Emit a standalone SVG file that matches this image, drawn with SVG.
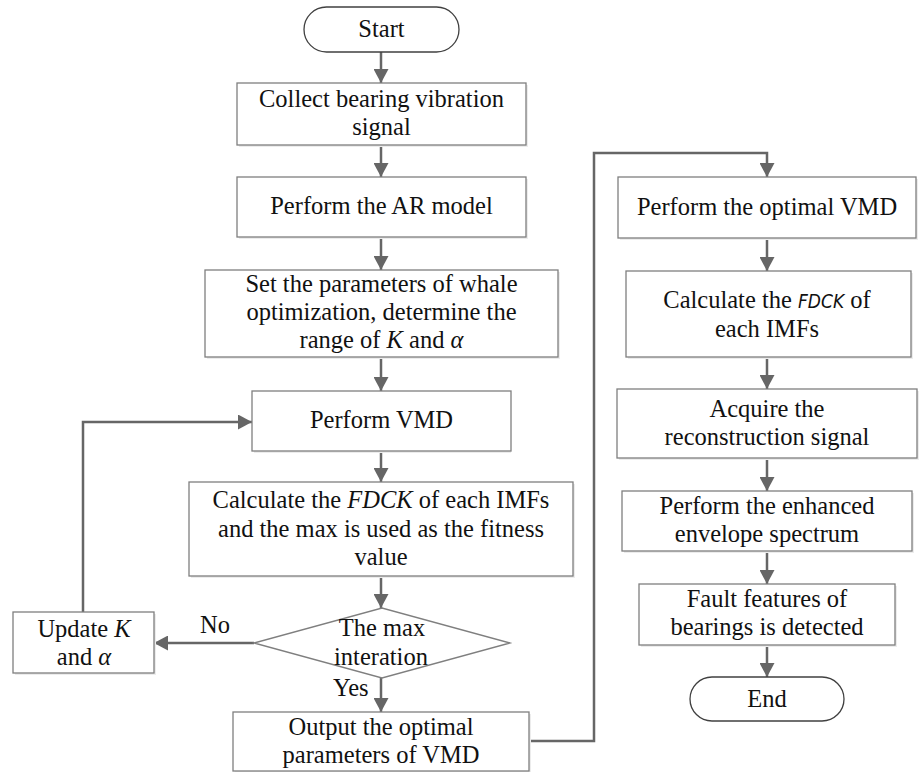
<svg xmlns="http://www.w3.org/2000/svg" width="919" height="772" viewBox="0 0 919 772">
<style>
.box{fill:#fff;stroke:#7f7f7f;stroke-width:1.3}
.shadow{fill:#ececec;stroke:none}
.term{fill:#fff;stroke:#404040;stroke-width:1.3}
.t{font-family:"Liberation Serif","Times New Roman",serif;font-size:24.5px;fill:#111;text-anchor:middle}
.lbl{font-family:"Liberation Serif","Times New Roman",serif;font-size:24.5px;fill:#111}
.it{font-style:italic}
.sans{font-family:"Liberation Sans Narrow","DejaVu Sans Condensed","Liberation Sans",Arial,sans-serif;font-style:italic;font-size:19px}
.c{fill:none;stroke:#666;stroke-width:2.5;marker-end:url(#ah)}
</style>
<defs>
<marker id="ah" markerUnits="userSpaceOnUse" markerWidth="15" markerHeight="15" refX="14" refY="7.5" orient="auto">
<path d="M0,0 L14,7.5 L0,15 z" fill="#666"/>
</marker>
</defs>
<rect width="919" height="772" fill="#fff"/>

<g id="connectors">
<path class="c" d="M381,52 V83"/>
<path class="c" d="M381,145 V177"/>
<path class="c" d="M381,237 V270"/>
<path class="c" d="M381,357 V391"/>
<path class="c" d="M381,451 V482"/>
<path class="c" d="M381,576 V608"/>
<path class="c" d="M381,678 V712"/>
<path class="c" d="M254,643 H154"/>
<path class="c" d="M83,612 V422 H252"/>
<path class="c" d="M529,741 H594 V153 H767 V177"/>
<path class="c" d="M767,238 V271"/>
<path class="c" d="M767,357 V389"/>
<path class="c" d="M767,458 V491"/>
<path class="c" d="M767,551 V584"/>
<path class="c" d="M767,645 V677"/>
<text class="lbl" x="200" y="633">No</text>
<text class="lbl" x="333" y="696">Yes</text>
</g>

<g id="start">
<rect class="term" x="304" y="7" width="155" height="45" rx="22.5" ry="22.5"/>
<text class="t" x="381.5" y="37">Start</text>
</g>

<g id="collect">
<rect class="shadow" x="239" y="85" width="289" height="62"/>
<rect class="box" x="237" y="83" width="289" height="62"/>
<text class="t" x="381.5" y="107">Collect bearing vibration</text>
<text class="t" x="381.5" y="135">signal</text>
</g>

<g id="ar">
<rect class="shadow" x="239" y="179" width="289" height="60"/>
<rect class="box" x="237" y="177" width="289" height="60"/>
<text class="t" x="381.5" y="214">Perform the AR model</text>
</g>

<g id="setparams">
<rect class="shadow" x="207" y="272" width="353" height="87"/>
<rect class="box" x="205" y="270" width="353" height="87"/>
<text class="t" x="381.5" y="292">Set the parameters of whale</text>
<text class="t" x="381.5" y="320">optimization, determine the</text>
<text class="t" x="381.5" y="348">range of <tspan class="it">K</tspan> and <tspan class="it">α</tspan></text>
</g>

<g id="vmd">
<rect class="shadow" x="254" y="393" width="257" height="60"/>
<rect class="box" x="252" y="391" width="259" height="60"/>
<text class="t" x="381.5" y="428">Perform VMD</text>
</g>

<g id="calc1">
<rect class="shadow" x="191" y="484" width="384" height="94"/>
<rect class="box" x="189" y="482" width="384" height="94"/>
<text class="t" x="381" y="508">Calculate the <tspan class="it">FDCK</tspan> of each IMFs</text>
<text class="t" x="381" y="537">and the max is used as the fitness</text>
<text class="t" x="381" y="565">value</text>
</g>

<g id="decision">
<polygon class="box" points="254,643 382,608 510,643 382,678"/>
<text class="t" x="382" y="636">The max</text>
<text class="t" x="381" y="665">interation</text>
</g>

<g id="update">
<rect class="shadow" x="15" y="614" width="141" height="61"/>
<rect class="box" x="13" y="612" width="141" height="61"/>
<text class="t" x="84" y="637">Update <tspan class="it">K</tspan></text>
<text class="t" x="84" y="665">and <tspan class="it">α</tspan></text>
</g>

<g id="output">
<rect class="shadow" x="235" y="714" width="296" height="60"/>
<rect class="box" x="233" y="712" width="296" height="59"/>
<text class="t" x="381" y="735">Output the optimal</text>
<text class="t" x="381" y="763">parameters of VMD</text>
</g>

<g id="optvmd">
<rect class="shadow" x="620" y="179" width="298" height="61"/>
<rect class="box" x="618" y="177" width="298" height="61"/>
<text class="t" x="767" y="215">Perform the optimal VMD</text>
</g>

<g id="calc2">
<rect class="shadow" x="628" y="273" width="285" height="86"/>
<rect class="box" x="626" y="271" width="285" height="86"/>
<text class="t" x="767" y="308">Calculate the <tspan class="sans">FDCK</tspan> of</text>
<text class="t" x="767" y="337">each IMFs</text>
</g>

<g id="acquire">
<rect class="shadow" x="619" y="391" width="300" height="69"/>
<rect class="box" x="617" y="389" width="300" height="69"/>
<text class="t" x="767" y="417">Acquire the</text>
<text class="t" x="767" y="445">reconstruction signal</text>
</g>

<g id="envelope">
<rect class="shadow" x="624" y="493" width="290" height="60"/>
<rect class="box" x="622" y="491" width="290" height="60"/>
<text class="t" x="767" y="514">Perform the enhanced</text>
<text class="t" x="767" y="542">envelope spectrum</text>
</g>

<g id="fault">
<rect class="shadow" x="641" y="586" width="256" height="61"/>
<rect class="box" x="639" y="584" width="256" height="61"/>
<text class="t" x="767" y="607">Fault features of</text>
<text class="t" x="767" y="635">bearings is detected</text>
</g>

<g id="end">
<rect class="term" x="690" y="677" width="154" height="44" rx="22" ry="22"/>
<text class="t" x="767" y="707">End</text>
</g>
</svg>
